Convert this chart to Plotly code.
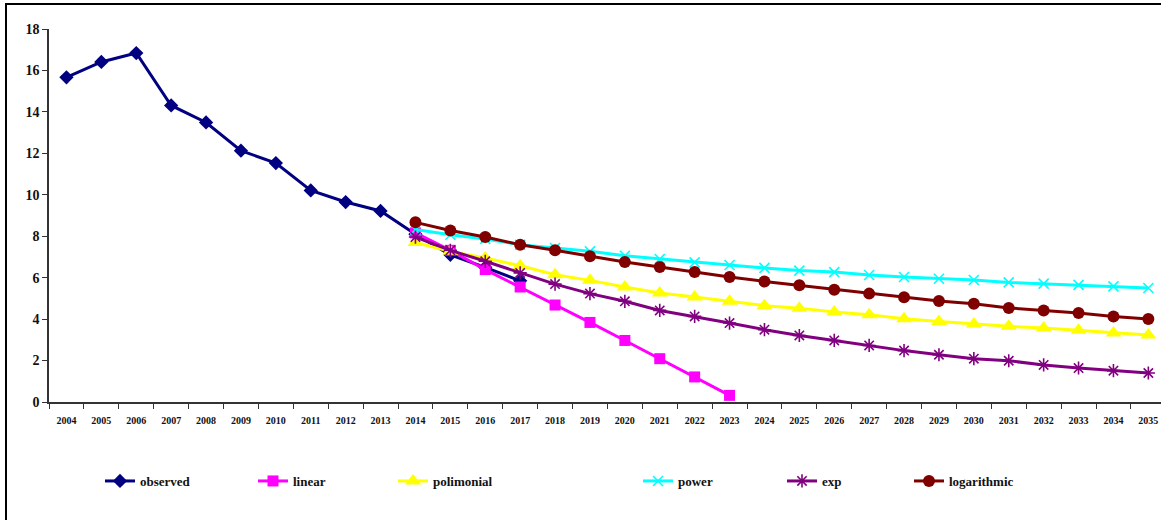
import plotly.graph_objects as go

# Category axis: one slot per year
years = [str(y) for y in range(2004, 2036)]

observed_years = years[0:14]    # 2004-2017
linear_years = years[10:20]     # 2014-2023
forecast_years = years[10:]     # 2014-2035

observed = [15.67, 16.41, 16.84, 14.31, 13.49, 12.13, 11.53, 10.21, 9.65, 9.22,
            8.10, 7.10, 6.50, 5.85]
linear = [8.16, 7.32, 6.39, 5.55, 4.68, 3.84, 2.97, 2.09, 1.21, 0.32]
polimonial = [7.70, 7.27, 6.95, 6.58, 6.14, 5.87, 5.55, 5.26, 5.07, 4.86, 4.65,
              4.53, 4.34, 4.21, 4.02, 3.89, 3.76, 3.65, 3.57, 3.46, 3.33, 3.23]
power = [8.32, 8.07, 7.87, 7.59, 7.43, 7.27, 7.06, 6.90, 6.74, 6.61, 6.47,
         6.34, 6.27, 6.13, 6.03, 5.95, 5.89, 5.77, 5.71, 5.65, 5.58, 5.50]
exp = [7.96, 7.32, 6.79, 6.23, 5.69, 5.23, 4.86, 4.42, 4.13, 3.81, 3.49,
       3.21, 2.97, 2.73, 2.48, 2.28, 2.09, 1.99, 1.79, 1.64, 1.51, 1.40]
logarithmic = [8.67, 8.28, 7.96, 7.59, 7.32, 7.03, 6.76, 6.52, 6.27, 6.03, 5.82,
               5.63, 5.42, 5.23, 5.05, 4.87, 4.74, 4.54, 4.42, 4.30, 4.13, 4.01]

W, H = 1161, 520
ML, MR, MT, MB = 49, 0, 29, 118
PW, PH = W - ML - MR, H - MT - MB


def px_x(px):
    return (px - ML) / PW


def px_y(py):
    return (H - MB - py) / PH


SERIF = "Liberation Serif, Times New Roman, serif"

series = [
    ("observed", observed_years, observed, "#000080", "diamond", 11, None, "legend"),
    ("linear", linear_years, linear, "#FF00FF", "square", 11, None, "legend2"),
    ("polimonial", forecast_years, polimonial, "#FFFF00", "triangle-up", 14, None, "legend3"),
    ("power", forecast_years, power, "#00FFFF", "x-thin-open", 10, 1.6, "legend4"),
    ("exp", forecast_years, exp, "#800080", "asterisk-open", 11, 1.6, "legend5"),
    ("logarithmic", forecast_years, logarithmic, "#800000", "circle", 12, None, "legend6"),
]

fig = go.Figure()
for name, xs, ys, color, symbol, size, mlw, leg in series:
    marker = dict(symbol=symbol, size=size, color=color)
    if mlw:
        marker["line"] = dict(color=color, width=mlw)
    else:
        marker["line"] = dict(width=0)
    fig.add_trace(go.Scatter(
        x=xs, y=ys, name=name, mode="lines+markers",
        line=dict(color=color, width=3),
        marker=marker, legend=leg,
    ))

# Each legend entry sits at its own horizontal position
legend_left = {"legend": 100, "legend2": 253, "legend3": 393,
               "legend4": 638, "legend5": 782, "legend6": 909}
legend_style = dict(
    orientation="h", yanchor="middle", xanchor="left",
    font=dict(family=SERIF, size=13, color="#111111", weight="bold"),
    bgcolor="rgba(0,0,0,0)", borderwidth=0,
)
legends = {k: dict(x=px_x(v), y=px_y(481), **legend_style) for k, v in legend_left.items()}

fig.update_layout(
    width=W, height=H,
    margin=dict(l=ML, r=MR, t=MT, b=MB, pad=0),
    paper_bgcolor="white", plot_bgcolor="white",
    showlegend=True,
    **legends,
    xaxis=dict(
        type="category", categoryorder="array", categoryarray=years,
        range=[-0.5, -0.5 + PW / 34.9],
        tickson="boundaries", ticks="outside", ticklen=5, tickwidth=1.2,
        tickcolor="#333333", showline=True, linecolor="#333333", linewidth=1.5,
        showgrid=False, zeroline=False,
        tickfont=dict(family=SERIF, size=10, color="#111111", weight="bold"),
        ticklabelstandoff=8,
    ),
    yaxis=dict(
        range=[0, 18], dtick=2, tick0=0,
        ticks="outside", ticklen=5, tickwidth=1.2, tickcolor="#333333",
        showline=True, linecolor="#333333", linewidth=1.5,
        showgrid=False, zeroline=False,
        tickfont=dict(family=SERIF, size=14, color="#111111", weight="bold"),
    ),
    shapes=[
        # chart frame, running past the right and bottom edges
        dict(type="rect", xref="paper", yref="paper",
             x0=px_x(6), x1=px_x(1250), y0=px_y(640), y1=px_y(4),
             line=dict(color="#000000", width=2), layer="below"),
    ],
)

fig.write_html("out.html", config={"displayModeBar": False})
